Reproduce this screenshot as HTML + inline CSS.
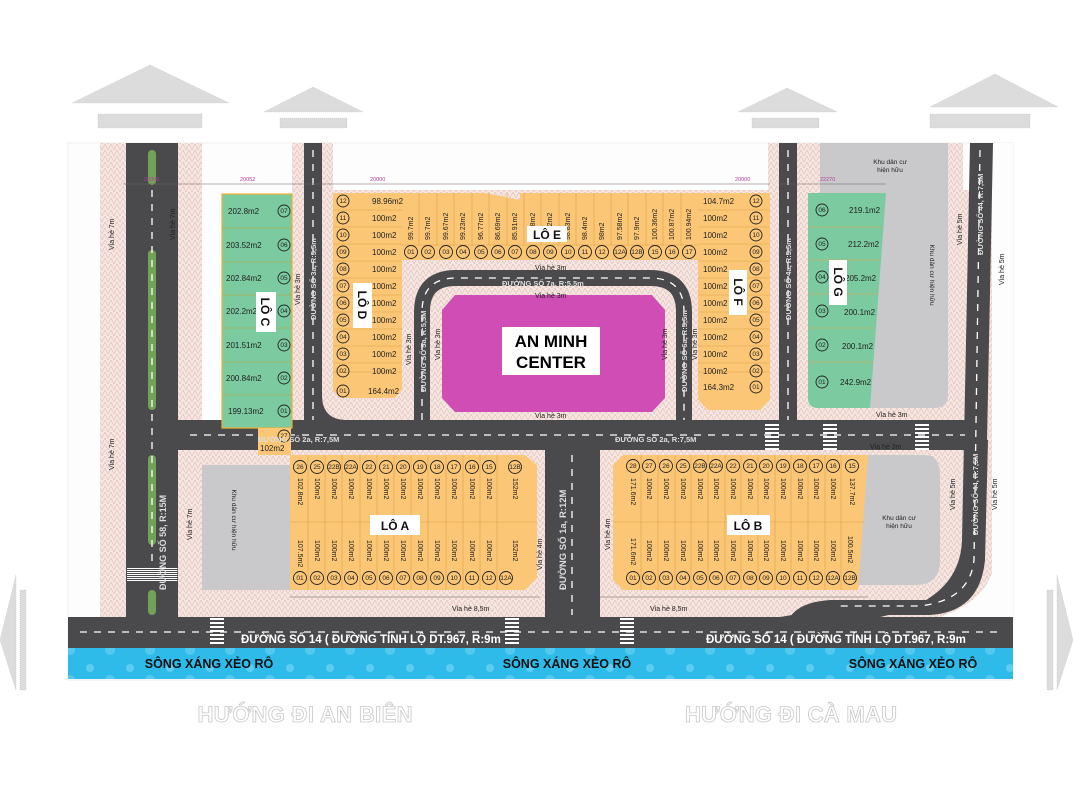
<!DOCTYPE html>
<html><head><meta charset="utf-8"><style>
html,body{margin:0;padding:0;background:#fff;}
svg{display:block;font-family:"Liberation Sans",sans-serif;}
</style></head><body>
<svg width="1073" height="800" viewBox="0 0 1073 800" xmlns="http://www.w3.org/2000/svg">
<defs>
<pattern id="hatch" width="6" height="6" patternUnits="userSpaceOnUse">
<rect width="6" height="6" fill="#f5e6e2"/><path d="M0 6L3 0L6 6" stroke="#e2bdb3" stroke-width="0.6" fill="none"/>
</pattern>
<pattern id="water" width="40" height="30" patternUnits="userSpaceOnUse">
<rect width="40" height="30" fill="#2fbbea"/><circle cx="10" cy="8" r="4" fill="#5dcdf2"/><circle cx="30" cy="20" r="5" fill="#55c8ef"/>
</pattern>
</defs>
<g fill="#dcdcdc" stroke="#c8c8c8" stroke-dasharray="1 1" stroke-width="0.6">
<polygon points="150,65 72,103 229,103"/><rect x="98" y="114" width="104" height="14"/>
<polygon points="313,87 264,112 363,112"/><rect x="280" y="118" width="67" height="10"/>
<polygon points="787,88 738,112 837,112"/><rect x="752" y="118" width="67" height="10"/>
<polygon points="995,74 930,107 1058,107"/><rect x="930" y="114" width="100" height="14"/>
<polygon points="0,640 16,575 16,690"/><rect x="20" y="590" width="6" height="100"/>
<polygon points="1073,640 1057,575 1057,690"/><rect x="1047" y="590" width="6" height="100"/>
</g>
<rect x="68" y="143" width="945" height="537" fill="#fdfdfd" stroke="#eee"/>
<rect x="100" y="143" width="102" height="474" fill="url(#hatch)"/>
<rect x="292" y="143" width="41" height="60" fill="url(#hatch)"/>
<rect x="768" y="143" width="40" height="60" fill="url(#hatch)"/>
<rect x="292" y="190" width="700" height="427" fill="url(#hatch)"/>
<rect x="202" y="450" width="90" height="167" fill="url(#hatch)"/>
<rect x="808" y="143" width="155" height="60" fill="url(#hatch)"/>
<rect x="202" y="190" width="90" height="230" fill="#fdfdfd"/>
<path d="M820 143H948V395Q948 408 935 408H820Z" fill="#c9c9cb"/>
<rect x="202" y="465" width="88" height="125" fill="#c9c9cb"/>
<path d="M858 455H925Q940 455 940 475V560Q940 585 915 585H858Z" fill="#c9c9cb"/>
<path d="M995 143H1013V617H940Q990 600 995 560Z" fill="#fdfdfd"/>
<g fill="#4a4a4c">
<rect x="126" y="143" width="52" height="474"/>
<path d="M304 143H322V395Q322 420 347 420H304Z"/>
<rect x="304" y="143" width="18" height="290"/>
<rect x="779" y="143" width="18" height="300"/>
<rect x="177" y="420" width="798" height="30"/>
<path d="M545 450H600V617H545Z"/>
<path d="M970 143H993L985 540Q980 605 915 610L810 612L780 617H880Q960 600 962 540Z"/>
<rect x="68" y="617" width="945" height="31"/>
<path d="M790 617Q800 602 830 600H930Q962 598 966 560L970 440H988L985 560Q980 612 930 615H850Z"/>
</g>
<path d="M422 420V312Q422 278 456 278H650Q684 278 684 312V420" fill="none" stroke="#4a4a4c" stroke-width="16"/>
<path d="M455 295H652L665 310V398L652 412H455L442 398V310Z" fill="#cf4db5"/>
<rect x="502" y="327" width="98" height="48" fill="#fff"/>
<text x="551" y="347" font-size="17" font-weight="bold" text-anchor="middle">AN MINH</text>
<text x="551" y="368" font-size="17" font-weight="bold" text-anchor="middle">CENTER</text>
<g fill="#7bb95a" opacity="0.8"><rect x="148" y="150" width="8" height="35" rx="4"/><rect x="148" y="250" width="8" height="160" rx="4"/><rect x="148" y="455" width="8" height="90" rx="4"/><rect x="148" y="590" width="8" height="25" rx="4"/></g>
<g stroke="#fff" stroke-width="1.3" stroke-dasharray="7 7" fill="none">
<line x1="152" y1="190" x2="152" y2="565"/>
<line x1="313" y1="150" x2="313" y2="420"/>
<line x1="788" y1="150" x2="788" y2="420"/>
<line x1="190" y1="435" x2="965" y2="435"/>
<line x1="572" y1="455" x2="572" y2="615"/>
<line x1="80" y1="632" x2="1000" y2="632"/>
<path d="M422 420V312Q422 278 456 278H650Q684 278 684 312V420"/>
<path d="M980 150L974 560Q970 600 920 606H840"/>
</g>
<g fill="#fff">
<g id="cwv"><rect x="0" y="0" width="14" height="2"/><rect x="0" y="4" width="14" height="2"/><rect x="0" y="8" width="14" height="2"/><rect x="0" y="12" width="14" height="2"/><rect x="0" y="16" width="14" height="2"/><rect x="0" y="20" width="14" height="2"/><rect x="0" y="24" width="14" height="2"/></g>
<use href="#cwv" transform="translate(210 618)"/><use href="#cwv" transform="translate(505 618)"/><use href="#cwv" transform="translate(620 618)"/>
<use href="#cwv" transform="translate(127 568) scale(3.6 0.5)"/>
<use href="#cwv" transform="translate(765 424)"/><use href="#cwv" transform="translate(823 424)"/><use href="#cwv" transform="translate(915 424)"/>
</g>
<rect x="68" y="648" width="945" height="31" fill="url(#water)"/>
<g font-size="12.5" font-weight="bold" text-anchor="middle" fill="#111">
<text x="209" y="668">SÔNG XÁNG XẺO RÔ</text><text x="567" y="668">SÔNG XÁNG XẺO RÔ</text><text x="913" y="668">SÔNG XÁNG XẺO RÔ</text></g>
<g font-size="11.5" font-weight="bold" fill="#fff">
<text x="241" y="643">ĐƯỜNG SỐ 14 ( ĐƯỜNG TỈNH LỘ DT.967, R:9m</text>
<text x="706" y="643">ĐƯỜNG SỐ 14 ( ĐƯỜNG TỈNH LỘ DT.967, R:9m</text></g>
<g font-size="22" font-weight="bold" fill="#fff" stroke="#c8c8c8" stroke-width="0.8" text-anchor="middle">
<text x="305" y="722" textLength="215">HƯỚNG ĐI AN BIÊN</text><text x="791" y="722" textLength="212">HƯỚNG ĐI CÀ MAU</text></g>

<g stroke="#c4a23a" stroke-width="0.6">
<rect x="222" y="194" width="70" height="234" fill="#7ccaa0" stroke="#f0b030" stroke-width="1.2"/>
<line x1="222" y1="228" x2="292" y2="228"/><line x1="222" y1="262" x2="292" y2="262"/><line x1="222" y1="295" x2="292" y2="295"/><line x1="222" y1="328" x2="292" y2="328"/><line x1="222" y1="362" x2="292" y2="362"/><line x1="222" y1="395" x2="292" y2="395"/>
</g>
<rect x="258" y="428" width="33" height="27" fill="#fbc777"/>
<path d="M333 193H402V390L395 398H340L333 390Z" fill="#fbc777"/>
<path d="M402 193H485L520 200V193H698V260H402Z" fill="#fbc777"/>
<path d="M698 193H770V400L760 410H708L698 400Z" fill="#fbc777"/>
<path d="M808 193H886L870 408H818Q808 408 808 398Z" fill="#7ccaa0"/>
<path d="M290 455H525L537 465V578L525 590H290Z" fill="#fbc777"/>
<path d="M623 455H868L858 590H623L613 580V465Z" fill="#fbc777"/>
<g stroke="#e0a040" stroke-width="0.6">
<path d="M333 210H402M333 227H402M333 244H402M333 261H402M333 278H402M333 295H402M333 312H402M333 329H402M333 346H402M333 363H402M333 372H402"/>
<path d="M698 210H770M698 227H770M698 244H770M698 261H770M698 278H770M698 295H770M698 312H770M698 329H770M698 346H770M698 363H770M698 372H770M402 245H698"/>
<path d="M419 193V245M437 193V245M454 193V245M472 193V245M489 193V245M507 193V245M524 193V245M541 193V245M559 193V245M576 193V245M594 193V245M611 193V245M628 193V245M646 193V245M663 193V245M681 193V245"/>
<path d="M808 227H883M808 260H880M808 294H878M808 328H875M808 362H873"/>
<path d="M290 522H537M308 455V590M325 455V590M342 455V590M360 455V590M377 455V590M394 455V590M411 455V590M428 455V590M446 455V590M463 455V590M480 455V590M497 455V590"/>
<path d="M613 522H864M641 455V590M658 455V590M675 455V590M691 455V590M708 455V590M725 455V590M741 455V590M758 455V590M775 455V590M791 455V590M808 455V590M825 455V590M841 455V590"/>
</g>
<g fill="none" stroke="#222" stroke-width="0.9">
<circle cx="284" cy="211" r="6"/><circle cx="284" cy="245" r="6"/><circle cx="284" cy="278" r="6"/><circle cx="284" cy="311" r="6"/><circle cx="284" cy="345" r="6"/><circle cx="284" cy="378" r="6"/><circle cx="284" cy="411" r="6"/><circle cx="284" cy="436" r="6"/>
<circle cx="343" cy="201" r="6"/><circle cx="343" cy="218" r="6"/><circle cx="343" cy="235" r="6"/><circle cx="343" cy="252" r="6"/><circle cx="343" cy="269" r="6"/><circle cx="343" cy="286" r="6"/><circle cx="343" cy="303" r="6"/><circle cx="343" cy="320" r="6"/><circle cx="343" cy="337" r="6"/><circle cx="343" cy="354" r="6"/><circle cx="343" cy="371" r="6"/><circle cx="343" cy="391" r="6"/>
<circle cx="756" cy="201" r="6"/><circle cx="756" cy="218" r="6"/><circle cx="756" cy="235" r="6"/><circle cx="756" cy="252" r="6"/><circle cx="756" cy="269" r="6"/><circle cx="756" cy="286" r="6"/><circle cx="756" cy="303" r="6"/><circle cx="756" cy="320" r="6"/><circle cx="756" cy="337" r="6"/><circle cx="756" cy="354" r="6"/><circle cx="756" cy="371" r="6"/><circle cx="756" cy="387" r="6"/>
<circle cx="822" cy="210" r="6"/><circle cx="822" cy="244" r="6"/><circle cx="822" cy="277" r="6"/><circle cx="822" cy="311" r="6"/><circle cx="822" cy="345" r="6"/><circle cx="822" cy="382" r="6"/>
<circle cx="411" cy="252" r="6.5"/><circle cx="428" cy="252" r="6.5"/><circle cx="446" cy="252" r="6.5"/><circle cx="463" cy="252" r="6.5"/><circle cx="481" cy="252" r="6.5"/><circle cx="498" cy="252" r="6.5"/><circle cx="515" cy="252" r="6.5"/><circle cx="533" cy="252" r="6.5"/><circle cx="550" cy="252" r="6.5"/><circle cx="568" cy="252" r="6.5"/><circle cx="585" cy="252" r="6.5"/><circle cx="602" cy="252" r="6.5"/><circle cx="620" cy="252" r="6.5"/><circle cx="637" cy="252" r="6.5"/><circle cx="655" cy="252" r="6.5"/><circle cx="672" cy="252" r="6.5"/><circle cx="689" cy="252" r="6.5"/>
<circle cx="300" cy="467" r="6.5"/><circle cx="317" cy="467" r="6.5"/><circle cx="334" cy="467" r="6.5"/><circle cx="351" cy="467" r="6.5"/><circle cx="369" cy="467" r="6.5"/><circle cx="386" cy="467" r="6.5"/><circle cx="403" cy="467" r="6.5"/><circle cx="420" cy="467" r="6.5"/><circle cx="437" cy="467" r="6.5"/><circle cx="454" cy="467" r="6.5"/><circle cx="472" cy="467" r="6.5"/><circle cx="489" cy="467" r="6.5"/><circle cx="515" cy="467" r="6.5"/>
<circle cx="300" cy="578" r="6.5"/><circle cx="317" cy="578" r="6.5"/><circle cx="334" cy="578" r="6.5"/><circle cx="351" cy="578" r="6.5"/><circle cx="369" cy="578" r="6.5"/><circle cx="386" cy="578" r="6.5"/><circle cx="403" cy="578" r="6.5"/><circle cx="420" cy="578" r="6.5"/><circle cx="437" cy="578" r="6.5"/><circle cx="454" cy="578" r="6.5"/><circle cx="472" cy="578" r="6.5"/><circle cx="489" cy="578" r="6.5"/><circle cx="506" cy="578" r="6.5"/>
<circle cx="633" cy="466" r="6.5"/><circle cx="649" cy="466" r="6.5"/><circle cx="666" cy="466" r="6.5"/><circle cx="683" cy="466" r="6.5"/><circle cx="700" cy="466" r="6.5"/><circle cx="716" cy="466" r="6.5"/><circle cx="733" cy="466" r="6.5"/><circle cx="750" cy="466" r="6.5"/><circle cx="766" cy="466" r="6.5"/><circle cx="783" cy="466" r="6.5"/><circle cx="800" cy="466" r="6.5"/><circle cx="816" cy="466" r="6.5"/><circle cx="833" cy="466" r="6.5"/><circle cx="852" cy="466" r="6.5"/>
<circle cx="633" cy="578" r="6.5"/><circle cx="649" cy="578" r="6.5"/><circle cx="666" cy="578" r="6.5"/><circle cx="683" cy="578" r="6.5"/><circle cx="700" cy="578" r="6.5"/><circle cx="716" cy="578" r="6.5"/><circle cx="733" cy="578" r="6.5"/><circle cx="750" cy="578" r="6.5"/><circle cx="766" cy="578" r="6.5"/><circle cx="783" cy="578" r="6.5"/><circle cx="800" cy="578" r="6.5"/><circle cx="816" cy="578" r="6.5"/><circle cx="833" cy="578" r="6.5"/><circle cx="850" cy="578" r="6.5"/>
</g>
<g font-size="6.5" text-anchor="middle" fill="#222">
<text x="284" y="213">07</text><text x="284" y="247">06</text><text x="284" y="280">05</text><text x="284" y="313">04</text><text x="284" y="347">03</text><text x="284" y="380">02</text><text x="284" y="413">01</text><text x="284" y="438">27</text>
<text x="343" y="203">12</text><text x="343" y="220">11</text><text x="343" y="237">10</text><text x="343" y="254">09</text><text x="343" y="271">08</text><text x="343" y="288">07</text><text x="343" y="305">06</text><text x="343" y="322">05</text><text x="343" y="339">04</text><text x="343" y="356">03</text><text x="343" y="373">02</text><text x="343" y="393">01</text>
<text x="756" y="203">12</text><text x="756" y="220">11</text><text x="756" y="237">10</text><text x="756" y="254">09</text><text x="756" y="271">08</text><text x="756" y="288">07</text><text x="756" y="305">06</text><text x="756" y="322">05</text><text x="756" y="339">04</text><text x="756" y="356">03</text><text x="756" y="373">02</text><text x="756" y="389">01</text>
<text x="822" y="212">06</text><text x="822" y="246">05</text><text x="822" y="279">04</text><text x="822" y="313">03</text><text x="822" y="347">02</text><text x="822" y="384">01</text>
<text x="411" y="254">01</text><text x="428" y="254">02</text><text x="446" y="254">03</text><text x="463" y="254">04</text><text x="481" y="254">05</text><text x="498" y="254">06</text><text x="515" y="254">07</text><text x="533" y="254">08</text><text x="550" y="254">09</text><text x="568" y="254">10</text><text x="585" y="254">11</text><text x="602" y="254">12</text><text x="620" y="254">12A</text><text x="637" y="254">12B</text><text x="655" y="254">15</text><text x="672" y="254">16</text><text x="689" y="254">17</text>
<text x="300" y="469">26</text><text x="317" y="469">25</text><text x="334" y="469">22B</text><text x="351" y="469">22A</text><text x="369" y="469">22</text><text x="386" y="469">21</text><text x="403" y="469">20</text><text x="420" y="469">19</text><text x="437" y="469">18</text><text x="454" y="469">17</text><text x="472" y="469">16</text><text x="489" y="469">15</text><text x="515" y="469">12B</text>
<text x="300" y="580">01</text><text x="317" y="580">02</text><text x="334" y="580">03</text><text x="351" y="580">04</text><text x="369" y="580">05</text><text x="386" y="580">06</text><text x="403" y="580">07</text><text x="420" y="580">08</text><text x="437" y="580">09</text><text x="454" y="580">10</text><text x="472" y="580">11</text><text x="489" y="580">12</text><text x="506" y="580">12A</text>
<text x="633" y="468">28</text><text x="649" y="468">27</text><text x="666" y="468">26</text><text x="683" y="468">25</text><text x="700" y="468">22B</text><text x="716" y="468">22A</text><text x="733" y="468">22</text><text x="750" y="468">21</text><text x="766" y="468">20</text><text x="783" y="468">19</text><text x="800" y="468">18</text><text x="816" y="468">17</text><text x="833" y="468">16</text><text x="852" y="468">15</text>
<text x="633" y="580">01</text><text x="649" y="580">02</text><text x="666" y="580">03</text><text x="683" y="580">04</text><text x="700" y="580">05</text><text x="716" y="580">06</text><text x="733" y="580">07</text><text x="750" y="580">08</text><text x="766" y="580">09</text><text x="783" y="580">10</text><text x="800" y="580">11</text><text x="816" y="580">12</text><text x="833" y="580">12A</text><text x="850" y="580">12B</text>
</g>
<g font-size="8" fill="#222">
<text x="228" y="214">202.8m2</text><text x="226" y="248">203.52m2</text><text x="226" y="281">202.84m2</text><text x="226" y="314">202.2m2</text><text x="226" y="348">201.51m2</text><text x="226" y="381">200.84m2</text><text x="228" y="414">199.13m2</text><text x="260" y="451">102m2</text>
<text x="372" y="204">98.96m2</text><text x="372" y="221">100m2</text><text x="372" y="238">100m2</text><text x="372" y="255">100m2</text><text x="372" y="272">100m2</text><text x="372" y="289">100m2</text><text x="372" y="306">100m2</text><text x="372" y="323">100m2</text><text x="372" y="340">100m2</text><text x="372" y="357">100m2</text><text x="372" y="374">100m2</text><text x="368" y="394">164.4m2</text>
<text x="703" y="204">104.7m2</text><text x="703" y="221">100m2</text><text x="703" y="238">100m2</text><text x="703" y="255">100m2</text><text x="703" y="272">100m2</text><text x="703" y="289">100m2</text><text x="703" y="306">100m2</text><text x="703" y="323">100m2</text><text x="703" y="340">100m2</text><text x="703" y="357">100m2</text><text x="703" y="374">100m2</text><text x="703" y="390">164.3m2</text>
<text x="849" y="213">219.1m2</text><text x="848" y="247">212.2m2</text><text x="845" y="281">205.2m2</text><text x="844" y="315">200.1m2</text><text x="842" y="349">200.1m2</text><text x="840" y="385">242.9m2</text>
</g>
<g font-size="7" fill="#222">
<text transform="translate(413 240) rotate(-90)">99.7m2</text><text transform="translate(430 240) rotate(-90)">99.7m2</text><text transform="translate(448 240) rotate(-90)">99.67m2</text><text transform="translate(465 240) rotate(-90)">99.23m2</text><text transform="translate(483 240) rotate(-90)">96.77m2</text><text transform="translate(500 240) rotate(-90)">86.69m2</text><text transform="translate(517 240) rotate(-90)">85.91m2</text><text transform="translate(535 240) rotate(-90)">99.68m2</text><text transform="translate(552 240) rotate(-90)">99.22m2</text><text transform="translate(570 240) rotate(-90)">98.83m2</text><text transform="translate(587 240) rotate(-90)">98.4m2</text><text transform="translate(604 240) rotate(-90)">98m2</text><text transform="translate(622 240) rotate(-90)">97.58m2</text><text transform="translate(639 240) rotate(-90)">97.9m2</text><text transform="translate(657 240) rotate(-90)">100.36m2</text><text transform="translate(674 240) rotate(-90)">100.87m2</text><text transform="translate(691 240) rotate(-90)">100.94m2</text>
<text transform="translate(298 478) rotate(90)">102.8m2</text><text transform="translate(315 478) rotate(90)">100m2</text><text transform="translate(332 478) rotate(90)">100m2</text><text transform="translate(349 478) rotate(90)">100m2</text><text transform="translate(367 478) rotate(90)">100m2</text><text transform="translate(384 478) rotate(90)">100m2</text><text transform="translate(401 478) rotate(90)">100m2</text><text transform="translate(418 478) rotate(90)">100m2</text><text transform="translate(435 478) rotate(90)">100m2</text><text transform="translate(452 478) rotate(90)">100m2</text><text transform="translate(470 478) rotate(90)">100m2</text><text transform="translate(487 478) rotate(90)">100m2</text><text transform="translate(513 478) rotate(90)">152m2</text>
<text transform="translate(298 540) rotate(90)">107.5m2</text><text transform="translate(315 540) rotate(90)">100m2</text><text transform="translate(332 540) rotate(90)">100m2</text><text transform="translate(349 540) rotate(90)">100m2</text><text transform="translate(367 540) rotate(90)">100m2</text><text transform="translate(384 540) rotate(90)">100m2</text><text transform="translate(401 540) rotate(90)">100m2</text><text transform="translate(418 540) rotate(90)">100m2</text><text transform="translate(435 540) rotate(90)">100m2</text><text transform="translate(452 540) rotate(90)">100m2</text><text transform="translate(470 540) rotate(90)">100m2</text><text transform="translate(487 540) rotate(90)">100m2</text><text transform="translate(513 540) rotate(90)">152m2</text>
<text transform="translate(631 478) rotate(90)">171.6m2</text><text transform="translate(647 478) rotate(90)">100m2</text><text transform="translate(664 478) rotate(90)">100m2</text><text transform="translate(681 478) rotate(90)">100m2</text><text transform="translate(698 478) rotate(90)">100m2</text><text transform="translate(714 478) rotate(90)">100m2</text><text transform="translate(731 478) rotate(90)">100m2</text><text transform="translate(748 478) rotate(90)">100m2</text><text transform="translate(764 478) rotate(90)">100m2</text><text transform="translate(781 478) rotate(90)">100m2</text><text transform="translate(798 478) rotate(90)">100m2</text><text transform="translate(814 478) rotate(90)">100m2</text><text transform="translate(831 478) rotate(90)">100m2</text><text transform="translate(850 478) rotate(90)">137.7m2</text>
<text transform="translate(631 538) rotate(90)">171.6m2</text><text transform="translate(647 540) rotate(90)">100m2</text><text transform="translate(664 540) rotate(90)">100m2</text><text transform="translate(681 540) rotate(90)">100m2</text><text transform="translate(698 540) rotate(90)">100m2</text><text transform="translate(714 540) rotate(90)">100m2</text><text transform="translate(731 540) rotate(90)">100m2</text><text transform="translate(748 540) rotate(90)">100m2</text><text transform="translate(764 540) rotate(90)">100m2</text><text transform="translate(781 540) rotate(90)">100m2</text><text transform="translate(798 540) rotate(90)">100m2</text><text transform="translate(814 540) rotate(90)">100m2</text><text transform="translate(831 540) rotate(90)">100m2</text><text transform="translate(848 536) rotate(90)">100.5m2</text>
</g>
<g fill="#fff"><rect x="256" y="292" width="20" height="40"/><rect x="353" y="283" width="19" height="45"/><rect x="527" y="226" width="40" height="16"/><rect x="729" y="270" width="18" height="45"/><rect x="829" y="260" width="18" height="45"/><rect x="370" y="515" width="50" height="20"/><rect x="727" y="515" width="43" height="20"/></g>
<g font-size="12" font-weight="bold" fill="#111" text-anchor="middle">
<text transform="translate(261 312) rotate(90)">LÔ C</text><text transform="translate(358 305) rotate(90)">LÔ D</text><text x="547" y="239">LÔ E</text><text transform="translate(734 292) rotate(90)">LÔ F</text><text transform="translate(834 282) rotate(90)">LÔ G</text><text x="395" y="530">LÔ A</text><text x="748" y="530">LÔ B</text>
</g>
<g font-size="7.5" fill="#dddddd" font-weight="bold">
<text transform="translate(166 590) rotate(-90)" font-size="9">ĐƯỜNG SỐ 58, R:15M</text>
<text x="258" y="442">ĐƯỜNG SỐ 2a, R:7,5M</text><text x="615" y="442">ĐƯỜNG SỐ 2a, R:7,5M</text>
<text x="502" y="286">ĐƯỜNG SỐ 7a, R:5,5m</text>
<text transform="translate(566 590) rotate(-90)" font-size="9.5">ĐƯỜNG SỐ 1a, R:12M</text>
<text transform="translate(316 320) rotate(-90)">ĐƯỜNG SỐ 3a, R:5,5m</text>
<text transform="translate(791 320) rotate(-90)">ĐƯỜNG SỐ 4a, R:5,5m</text>
<text transform="translate(426 392) rotate(-90)">ĐƯỜNG SỐ 5a, R:5,5M</text>
<text transform="translate(687 392) rotate(-90)">ĐƯỜNG SỐ 6a, R:5,5m</text>
<text transform="translate(983 255) rotate(-90)">ĐƯỜNG SỐ 44, R:7,5M</text>
<text transform="translate(978 535) rotate(-90)">ĐƯỜNG SỐ 44, R:7,5M</text>
</g>
<g font-size="7" fill="#222">
<text x="535" y="270">Vỉa hè 3m</text><text x="535" y="298">Vỉa hè 3m</text><text x="535" y="418">Vỉa hè 3m</text><text x="876" y="417">Vỉa hè 3m</text><text x="870" y="449">Vỉa hè 3m</text>
<text x="650" y="611">Vỉa hè 8,5m</text><text x="452" y="611">Vỉa hè 8,5m</text>
<text transform="translate(300 305) rotate(-90)">Vỉa hè 3m</text><text transform="translate(411 365) rotate(-90)">Vỉa hè 3m</text><text transform="translate(440 360) rotate(-90)">Vỉa hè 3m</text><text transform="translate(667 360) rotate(-90)">Vỉa hè 3m</text><text transform="translate(697 360) rotate(-90)">Vỉa hè 3m</text>
<text transform="translate(114 250) rotate(-90)">Vỉa hè 7m</text><text transform="translate(114 470) rotate(-90)">Vỉa hè 7m</text><text transform="translate(192 540) rotate(-90)">Vỉa hè 7m</text><text transform="translate(175 240) rotate(-90)">Vỉa hè 7m</text>
<text transform="translate(542 570) rotate(-90)">Vỉa hè 4m</text><text transform="translate(610 550) rotate(-90)">Vỉa hè 4m</text>
<text transform="translate(962 245) rotate(-90)">Vỉa hè 5m</text><text transform="translate(1004 285) rotate(-90)">Vỉa hè 5m</text><text transform="translate(955 510) rotate(-90)">Vỉa hè 5m</text><text transform="translate(997 510) rotate(-90)">Vỉa hè 5m</text>
</g>
<g font-size="6.5" fill="#222" text-anchor="middle">
<text x="890" y="164">Khu dân cư</text><text x="890" y="172">hiện hữu</text><text x="899" y="520">Khu dân cư</text><text x="899" y="528">hiện hữu</text>
<text transform="translate(232 520) rotate(90)">Khu dân cư hiện hữu</text><text transform="translate(930 275) rotate(90)">Khu dân cư hiện hữu</text>
</g>
<g stroke="#666" stroke-width="0.6"><line x1="123" y1="184" x2="770" y2="184"/><line x1="780" y1="184" x2="886" y2="184"/><line x1="290" y1="597" x2="540" y2="597"/><line x1="600" y1="597" x2="868" y2="597"/></g>
<g font-size="5.5" fill="#b03da0"><text x="144" y="181">20000</text><text x="240" y="181">20052</text><text x="370" y="181">20000</text><text x="735" y="181">20000</text><text x="820" y="181">22270</text></g>
</svg>
</body></html>
